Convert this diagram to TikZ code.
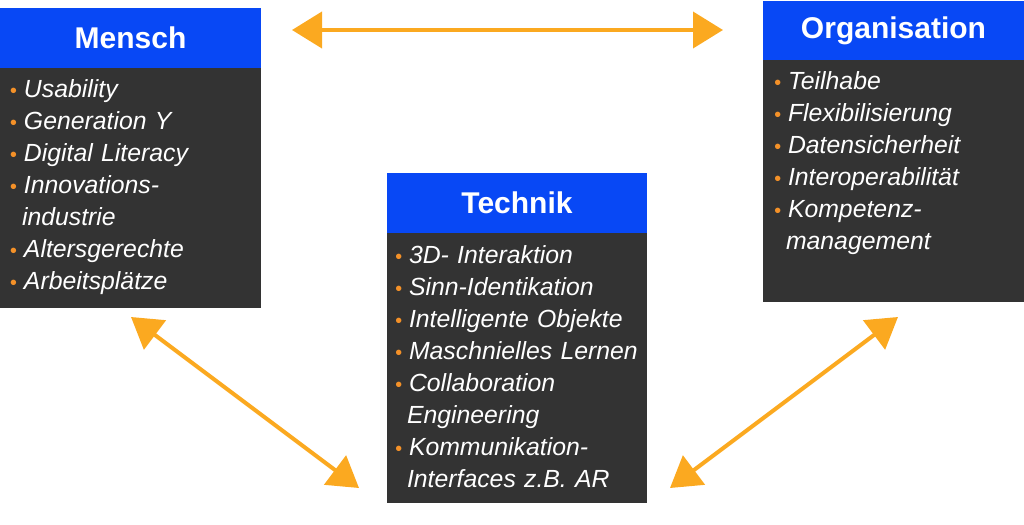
\documentclass[tikz,border=0pt]{standalone}
\usepackage{fontspec}
\setmainfont{Liberation Sans}
\usepackage{tikz}
\usetikzlibrary{arrows.meta,positioning}

\definecolor{headblue}{RGB}{8,72,245}
\definecolor{panelgrey}{RGB}{51,51,51}
\definecolor{linkorange}{RGB}{251,169,32}
\definecolor{dotorange}{RGB}{244,145,40}

\newcommand{\bul}{\makebox[7pt][l]{\textcolor{dotorange}{\fontsize{10}{10}\selectfont\textbullet}}}
\newcommand{\cont}{\hspace*{6pt}}

\begin{document}
\begin{tikzpicture}[x=0.5pt,y=-0.5pt,
    head/.style={rectangle,fill=headblue,text=white,inner sep=0pt,
        font=\bfseries\fontsize{15}{18}\selectfont,minimum height=30pt},
    panel/.style={rectangle,fill=panelgrey,inner sep=0pt},
    items/.style={text=white,inner sep=0pt,anchor=base west,text width=150pt,
        align=left,font=\itshape\fontsize{12.4}{16}\selectfont},
    link/.style={linkorange,line width=2pt,
        {Triangle[length=15pt,width=18pt]}-{Triangle[length=15pt,width=18pt]}}]

\useasboundingbox (0,0) rectangle (1024,525);

% Mensch
\node[head,minimum width=130.5pt] (menschhead) at (130.5,38) {Mensch};
\node[panel,minimum width=130.5pt,minimum height=120pt,below=-0.5pt of menschhead] (menschbody) {};
\node[items] (menschlist) at ([xshift=5pt,yshift=-15pt]menschbody.north west)
    {\bul Usability\\ \bul Generation Y\\ \bul Digital Literacy\\ \bul Innovations-\\
     \cont industrie\\ \bul Altersgerechte\\ \bul Arbeitspl\"atze};

% Technik
\node[head,minimum width=130pt] (technikhead) at (517,203) {Technik};
\node[panel,minimum width=130pt,minimum height=135pt,below=-0.5pt of technikhead] (technikbody) {};
\node[items] (techniklist) at ([xshift=4pt,yshift=-15.5pt]technikbody.north west)
    {\bul 3D- Interaktion\\ \bul Sinn-Identikation\\ \bul Intelligente Objekte\\
     \bul Maschnielles Lernen\\ \bul Collaboration\\ \cont Engineering\\
     \bul Kommunikation-\\ \cont Interfaces z.B. AR};

% Organisation
\node[head,minimum width=130.5pt] (orghead) at (893.5,30.5) {Organisation};
\node[panel,minimum width=130.5pt,minimum height=121pt,below=-0.5pt of orghead] (orgbody) {};
\node[items] (orglist) at ([xshift=5.5pt,yshift=-15pt]orgbody.north west)
    {\bul Teilhabe\\ \bul Flexibilisierung\\ \bul Datensicherheit\\
     \bul Interoperabilit\"at\\ \bul Kompetenz-\\ \cont management};

% arrows
\coordinate (toplinkl) at (292,30);
\coordinate (toplinkr) at (723,30);
\coordinate (leftlinka) at (131,317);
\coordinate (leftlinkb) at (359,488);
\coordinate (rightlinka) at (898,317);
\coordinate (rightlinkb) at (670,488);
\begin{scope}
    \draw[link] (toplinkl) -- (toplinkr);
    \draw[link] (leftlinka) -- (leftlinkb);
    \draw[link] (rightlinka) -- (rightlinkb);
\end{scope}
\end{tikzpicture}
\end{document}
